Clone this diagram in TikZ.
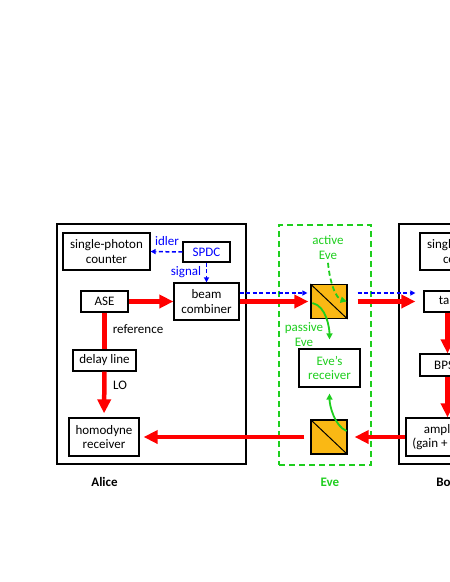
\documentclass[tikz,border=0pt]{standalone}
\usepackage{fontspec}
\setmainfont{Carlito}
\usepackage{xcolor}
\usetikzlibrary{arrows.meta, positioning}
\definecolor{evegreen}{RGB}{30,206,30}
\definecolor{bsorange}{RGB}{250,184,20}
\definecolor{sigblue}{RGB}{0,0,255}
\definecolor{beamred}{RGB}{255,0,0}

\begin{document}
\begin{tikzpicture}[
    x=1pt, y=-1pt,
    font=\fontsize{13}{14.5}\selectfont,
    partybox/.style={draw, line width=1.3pt, minimum width=189pt,
        minimum height=240pt, inner sep=0pt},
    evebox/.style={draw=evegreen, line width=1.5pt, dash pattern=on 6pt off 4pt,
        minimum width=92pt, minimum height=240pt, inner sep=0pt},
    devbox/.style 2 args={draw, line width=1.2pt, align=center, inner sep=0pt,
        minimum width=#1, minimum height=#2},
    splitter/.style={draw, line width=1.2pt, fill=bsorange, inner sep=0pt,
        minimum width=36pt, minimum height=34pt},
    partylabel/.style={font=\fontsize{13}{14.5}\selectfont\bfseries},
    beam/.style={draw=beamred, line width=4.5pt,
        -{Triangle[length=14pt,width=13pt]}},
    beamline/.style={draw=beamred, line width=4.5pt},
    sigarr/.style={draw=sigblue, line width=1.5pt, dash pattern=on 4pt off 2.5pt,
        -{Triangle[length=5pt,width=5pt]}},
    evearr/.style={draw=evegreen, line width=1.8pt,
        -{Triangle[length=6pt,width=6pt]}},
]
\clip (0,0) rectangle (450,582);

%% ========== PARTY BOXES ==========
\node[partybox] (alice) at (151.5,344) {};
\node[evebox] (evezone) at (325,345) {};
\node[partybox] (bob) at (493.5,344) {};

%% ========== ALICE ==========
\node[devbox={87pt}{37pt}] (counterA) at (106.5,251.5) {single-photon\\counter};
\node[devbox={47pt}{20pt}, text=sigblue] (spdc) at (206.5,252) {SPDC};
\node[devbox={47pt}{21pt}] (ase) at (104.5,301.5) {ASE};
\node[devbox={65pt}{37pt}] (combiner) at (206.5,301.5) {beam\\combiner};
\node[devbox={63pt}{21pt}] (delay) at (104.5,360.5) {delay line};
\node[devbox={70pt}{38pt}] (homodyne) at (104,437) {homodyne\\receiver};

\node[text=sigblue] (idlerlbl) at (167,241) {idler};
\node[text=sigblue] (signallbl) at (186,272) {signal};
\node (reflbl) at (138,329) {reference};
\node (lolbl) at (120,385) {LO};

%% ========== EVE ==========
\node[splitter] (bsA) at (329,301.5) {};
\draw[line width=1pt] (bsA.north west) -- (bsA.south east);
\node[splitter] (bsB) at (329,437) {};
\draw[line width=1pt] (bsB.north west) -- (bsB.south east);
\node[devbox={61pt}{38pt}, text=evegreen] (evercv) at (329.5,368) {Eve’s\\receiver};

\node[text=evegreen, align=center] (activelbl) at (328,247.5) {active\\Eve};
\node[text=evegreen, align=center] (passivelbl) at (304,334.5) {passive\\Eve};

%% ========== BOB ==========
\node[devbox={87pt}{37pt}] (counterB) at (463.5,251.5) {single-photon\\counter};
\node[devbox={47pt}{21pt}] (tap) at (447.5,301.5) {tap};
\node[devbox={55pt}{22pt}] (bpsk) at (447.5,365) {BPSK};
\node[devbox={83pt}{38pt}] (amp) at (447.5,437) {amplifier\\(gain + noise)};

%% ========== LABELS ==========
\node[partylabel] (alicelbl) at (104.5,482) {Alice};
\node[partylabel, text=evegreen] (evelbl) at (330,482) {Eve};
\node[partylabel] (boblbl) at (447,482) {Bob};

%% ========== PHOTON PAIRS ==========
\draw[sigarr] (spdc.west) -- (counterA.east);
\draw[sigarr] (spdc.south) -- (combiner.north);
\draw[sigarr, shorten >=3pt] ([yshift=8.5pt]combiner.east) -- ([yshift=8.5pt]bsA.west);
\draw[sigarr, shorten <=10pt, shorten >=8pt] ([yshift=8.5pt]bsA.east) -- ([yshift=8.5pt]tap.west);

%% ========== OPTICAL PATHS ==========
\draw[beam] (ase.east) -- (combiner.west);
\draw[beamline] (ase.south) -- (delay.north);
\draw[beam, shorten >=4pt] (delay.south) -- (homodyne.north);
\draw[beam, shorten >=2pt] (combiner.east) -- (bsA.west);
\draw[beam, shorten <=10pt, shorten >=8pt] (bsA.east) -- (tap.west);
\draw[beam] (tap.south) -- (bpsk.north);
\draw[beam] (bpsk.south) -- (amp.north);
\draw[beam, shorten >=7pt] (amp.west) -- (bsB.east);
\draw[beam, shorten <=6pt, shorten >=4pt] (bsB.west) -- (homodyne.east);

%% ========== EAVESDROPPING ==========
\draw[evearr, dash pattern=on 5pt off 3pt] (activelbl.south)
    .. controls +(2,22) and +(-10,-3) .. ([xshift=-1pt]bsA.east);
\draw[evearr, shorten >=9pt] ([shift={(2,1.5)}]bsA.west)
    .. controls +(14,3) and +(0,-20) .. (evercv.north);
\draw[evearr, shorten >=6pt] ([shift={(-1,-6)}]bsB.east)
    .. controls +(-12,-5) and +(0,18) .. (evercv.south);
\end{tikzpicture}
\end{document}
